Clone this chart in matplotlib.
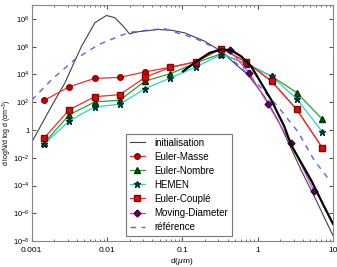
import matplotlib
matplotlib.use("Agg")
import matplotlib.pyplot as plt
import numpy as np
from matplotlib.ticker import FixedLocator, FuncFormatter, LogLocator, NullFormatter

# sectional diameters (um) shared by the Eulerian methods
d_sec = [0.00146, 0.00316, 0.00686, 0.0148, 0.0321, 0.0695,
         0.151, 0.327, 0.708, 1.53, 3.31, 7.18]
# values given as log10 of d logN / d log d
euler_masse = [2.13, 3.12, 3.72, 3.79, 4.19, 4.52, 4.91, 5.87, 4.91, 3.51, 1.48, -1.26]
euler_nombre = [-0.95, 1.10, 2.02, 2.15, 3.53, 4.06, 4.84, 5.49, 4.78, 3.87, 2.70, 0.79]
hemen = [-1.02, 0.67, 1.66, 1.86, 2.99, 3.75, 4.53, 5.44, 4.78, 3.87, 2.24, -0.11]
euler_couple = [-0.58, 1.46, 2.40, 2.55, 3.80, 4.52, 4.91, 5.87, 4.91, 3.51, 1.48, -1.26]

# moving diameter points (log10 d, log10 n)
md_logd = [-0.373, -0.109, 0.139, 0.441, 0.745]
md_logn = [5.75, 4.10, 1.86, -0.94, -4.37]

# initial distribution (log10 d, log10 n)
init_logd = [-3.0, -2.824, -2.695, -2.559, -2.444, -2.338, -2.16, -2.007, -1.897,
             -1.785, -1.702, -1.587, -1.322, -1.146, -0.970, -0.705, -0.483,
             -0.262, -0.13, 0.09, 0.268, 0.576, 0.775, 1.0]
init_logn = [-0.89, 0.86, 2.11, 3.39, 4.78, 6.03, 7.73, 8.25, 8.09,
             7.48, 6.93, 7.08, 7.24, 7.19, 7.00, 6.40, 5.67,
             4.59, 3.99, 2.42, 0.74, -2.87, -5.04, -7.6]

# reference solution
ref_logd = [-3.0, -2.735, -2.43, -2.11, -1.715, -1.50, -1.24, -1.146, -0.84,
            -0.523, -0.26, 0.007, 0.27, 0.536, 0.748, 0.97]
ref_logn = [2.15, 3.63, 5.07, 6.16, 7.02, 7.17, 7.31, 7.12, 6.64,
            5.80, 4.71, 3.27, 1.68, -0.13, -2.15, -3.74]

# thick black curve (unlabelled)
blk_logd = [-0.991, -0.837, -0.638, -0.483, -0.351, -0.219, -0.086, 0.046,
            0.179, 0.355, 0.444, 0.709, 0.885, 1.0]
blk_logn = [4.23, 4.84, 5.56, 5.80, 5.75, 5.31, 4.59, 3.39,
            2.18, 0.25, -1.07, -3.60, -5.53, -6.75]

p = lambda v: 10.0 ** np.array(v)

plt.rcParams["font.family"] = ["Liberation Sans", "DejaVu Sans"]
plt.rcParams["mathtext.fontset"] = "custom"
plt.rcParams["mathtext.rm"] = "Liberation Sans"
plt.rcParams["mathtext.it"] = "Liberation Sans:italic"
fig = plt.figure(figsize=(3.37, 2.67), dpi=100)
ax = fig.add_axes([0.094, 0.097, 0.894, 0.884])

ax.plot(p(init_logd), p(init_logn), color="#404040", lw=0.8, label="initialisation", zorder=2)
ax.plot(d_sec, p(euler_masse), color="#e83030", lw=0.9, marker="o", ms=4,
        mfc="#c00000", mec="#900000", label="Euler-Masse", zorder=3)
ax.plot(d_sec, p(euler_nombre), color="#30a030", lw=0.9, marker="^", ms=4,
        mfc="#006000", mec="#003000", label="Euler-Nombre", zorder=3)
ax.plot(d_sec, p(hemen), color="#30d0d0", lw=0.9, marker="*", ms=4.5,
        mfc="#005050", mec="#003030", label="HEMEN", zorder=3)
ax.plot(d_sec, p(euler_couple), color="#e83030", lw=0.9, marker="s", ms=4,
        mfc="#d01010", mec="#900000", label="Euler-Couplé", zorder=3)
ax.plot(p(md_logd), p(md_logn), color="#d040d0", lw=0.9, marker="D", ms=3.5,
        mfc="#600060", mec="#400040", label="Moving-Diameter", zorder=3)
ax.plot(p(ref_logd), p(ref_logn), color="#6060e8", lw=1.0, ls=(0, (4, 4)),
        label="référence", zorder=2)
ax.plot(p(blk_logd), p(blk_logn), color="black", lw=1.6, zorder=4)

ax.set_xscale("log")
ax.set_yscale("log")
ax.set_xlim(0.001, 10)
ax.set_ylim(1e-8, 1e9)

ax.xaxis.set_major_locator(FixedLocator([0.001, 0.01, 0.1, 1, 10]))
ax.xaxis.set_major_formatter(FuncFormatter(lambda v, _: f"{v:g}"))
ax.xaxis.set_minor_locator(LogLocator(base=10, subs=np.arange(2, 10)))
ax.xaxis.set_minor_formatter(NullFormatter())
yt = [10.0 ** k for k in range(-8, 9, 2)]
ax.yaxis.set_major_locator(FixedLocator(yt))
ax.yaxis.set_minor_locator(FixedLocator([]))


def yfmt(v, _):
    k = int(round(np.log10(v)))
    return "1" if k == 0 else f"$10^{{{k}}}$"


ax.yaxis.set_major_formatter(FuncFormatter(yfmt))
ax.tick_params(which="both", direction="in", top=True, right=True,
               labelsize=6, color="#555555")
ax.tick_params(axis="x", pad=4)
ax.tick_params(axis="y", pad=1.5, labelsize=5.5)
ax.tick_params(which="major", length=3)
ax.tick_params(which="minor", length=1.5)
for s in ax.spines.values():
    s.set_color("#888888")
    s.set_linewidth(0.8)

ax.set_xlabel(r"d($\mu$m)", fontsize=6)
ax.set_ylabel(r"d logN/d log d (cm$^{-3}$)", fontsize=5)
ax.xaxis.set_label_coords(0.498, -0.062)
ax.yaxis.set_label_coords(-0.058, 0.46)

leg = ax.legend(loc="lower left", bbox_to_anchor=(0.314, 0.022), fontsize=7,
                frameon=True, fancybox=False, handlelength=1.5,
                borderpad=0.4, labelspacing=0.42, handletextpad=1.0,
                borderaxespad=0)
leg.get_frame().set_edgecolor("#555555")
leg.get_frame().set_linewidth(0.8)

fig.savefig("out.png", dpi=100)
